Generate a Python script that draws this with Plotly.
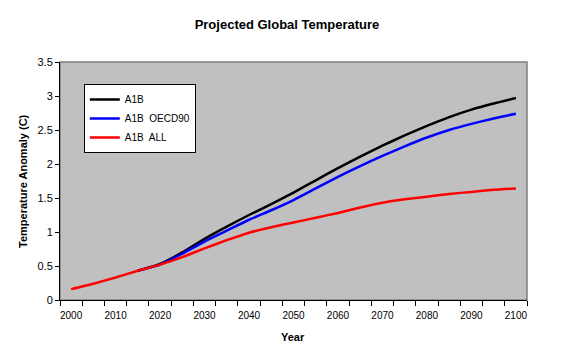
import plotly.graph_objects as go

years = list(range(2000, 2101, 5))
a1b = [None, None, None, 0.43, 0.53, 0.70, 0.90, 1.08, 1.25, 1.41, 1.58, 1.76, 1.94, 2.11, 2.27, 2.42, 2.56, 2.69, 2.80, 2.89, 2.97]
a1b_oecd90 = [None, None, None, 0.43, 0.52, 0.68, 0.86, 1.02, 1.18, 1.32, 1.47, 1.64, 1.81, 1.97, 2.12, 2.26, 2.39, 2.50, 2.59, 2.67, 2.74]
a1b_all = [0.16, 0.24, 0.33, 0.43, 0.52, 0.63, 0.76, 0.88, 0.99, 1.07, 1.14, 1.21, 1.28, 1.36, 1.43, 1.48, 1.52, 1.56, 1.59, 1.62, 1.64]
xticks = list(range(2000, 2101, 10))

font = "Arial, Liberation Sans, sans-serif"
fig = go.Figure()
fig.add_trace(go.Scatter(x=years, y=a1b, mode="lines", name="A1B",
                         line=dict(color="#000000", width=2.5, shape="spline", smoothing=0.5)))
fig.add_trace(go.Scatter(x=years, y=a1b_oecd90, mode="lines", name="A1B  OECD90",
                         line=dict(color="#0000FF", width=2.5, shape="spline", smoothing=0.5)))
fig.add_trace(go.Scatter(x=years, y=a1b_all, mode="lines", name="A1B  ALL",
                         line=dict(color="#FF0000", width=2.5, shape="spline", smoothing=0.5)))

fig.update_layout(
    width=576, height=352,
    margin=dict(l=60, r=49, t=62, b=52),
    paper_bgcolor="white", plot_bgcolor="#C0C0C0",
    font=dict(family=font, size=10, color="black"),
    showlegend=True,
    legend=dict(x=0.051, y=0.908, xanchor="left", yanchor="top",
                bgcolor="white", bordercolor="black", borderwidth=1,
                font=dict(size=10), tracegroupgap=0, itemwidth=30),
    title=dict(text="<b>Projected Global Temperature</b>", x=287/576, xref="container",
               xanchor="center", y=1 - 24/352, yref="container", yanchor="middle",
               font=dict(size=13, family=font)),
    xaxis=dict(range=[1997.5, 2102.5], tickvals=xticks, ticktext=[str(t) for t in xticks],
               ticks="", showgrid=False, zeroline=False, showline=True, linecolor="black",
               linewidth=1, tickfont=dict(size=10), ticklabelstandoff=6,
               minor=dict(tick0=1997.5, dtick=5, ticks="outside", ticklen=5,
                          tickcolor="black", showgrid=False)),
    yaxis=dict(range=[0, 3.5], dtick=0.5, tickformat="~g", ticks="outside", ticklen=4,
               tickcolor="black", showgrid=False, zeroline=False, showline=True,
               linecolor="black", linewidth=1, tickfont=dict(size=11)),
    shapes=[dict(type="rect", xref="paper", yref="paper", x0=0, x1=1, y0=0, y1=1,
                 line=dict(color="#808080", width=1.5), layer="below")],
    annotations=[
        dict(text="<b>Year</b>", xref="paper", yref="paper", x=(293-60)/467,
             y=-(337-300)/238, xanchor="center", yanchor="middle", showarrow=False,
             font=dict(size=11)),
        dict(text="<b>Temperature Anomaly (C)</b>", xref="paper", yref="paper",
             x=-(60-23)/467, y=0.5, xanchor="center", yanchor="middle", textangle=-90,
             showarrow=False, font=dict(size=11)),
    ],
)
fig.write_html("out.html")
